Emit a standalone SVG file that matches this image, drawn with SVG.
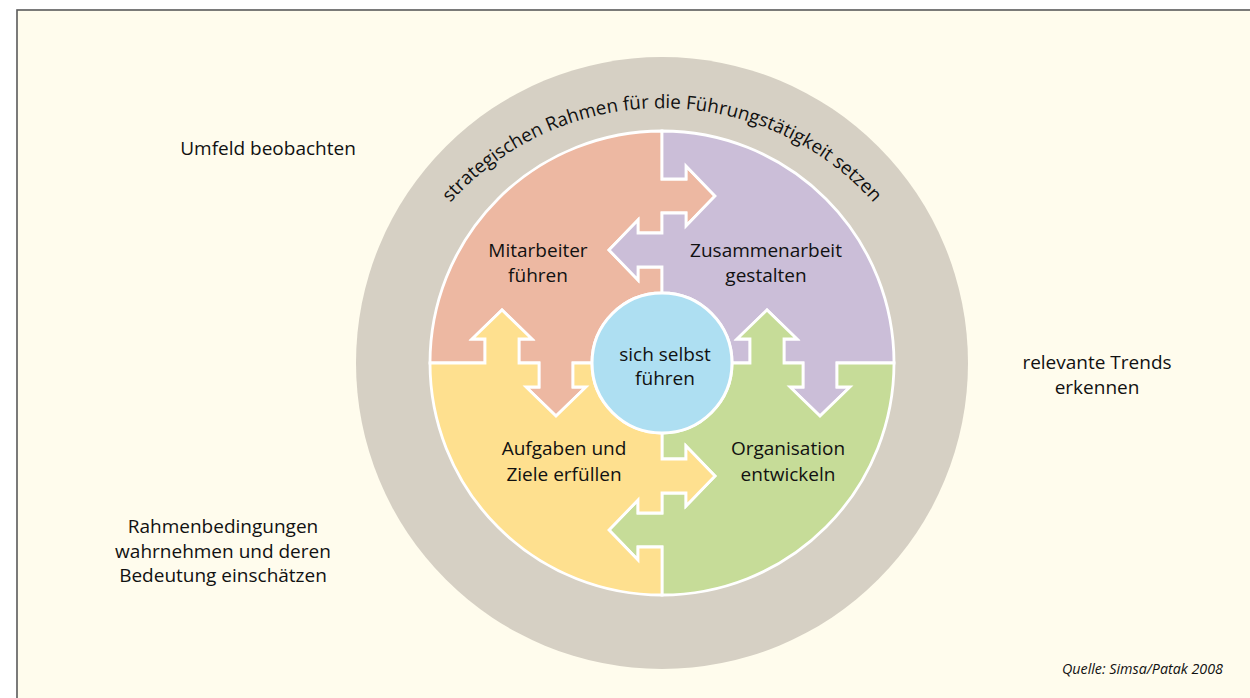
<svg xmlns="http://www.w3.org/2000/svg" width="1250" height="698" viewBox="0 0 1250 698">
<defs>
<style>
.t{font-family:"Open Sans","Noto Sans","Liberation Sans",sans-serif;font-size:19px;fill:#111;text-anchor:middle}
.q{stroke:#fff;stroke-width:2.8;stroke-linejoin:miter}
</style>
<path id="arc" d="M378,392 A284,284 0 0 1 946,392"/>
</defs>
<rect x="0" y="0" width="1250" height="698" fill="#fff"/>
<rect x="17" y="10" width="1250" height="700" fill="#fffced" stroke="#5a5a5a" stroke-width="1.6"/>
<g id="ring">
<circle cx="662" cy="363" r="306" fill="#d6d0c4"/>
<text class="t" style="font-size:18.8px"><textPath href="#arc" startOffset="50%">strategischen Rahmen für die Führungstätigkeit setzen</textPath></text>
</g>
<g id="mitarbeiter">
<path class="q" fill="#edb8a2" d="M430,363 A232,232 0 0 1 662,131 V179 H686 V166 L715,196 L686,226 V213 H662 V233 H638 V220 L609,250 L638,280 V267 H662 V293 A70,70 0 0 0 592,363 H573 V387 H586 L556,416 L526,387 H539 V363 H519 V339 H532 L502,310 L472,339 H485 V363 Z"/>
<text class="t" x="538" y="257">Mitarbeiter</text>
<text class="t" x="538" y="282">führen</text>
</g>
<g id="zusammenarbeit">
<path class="q" fill="#cbbed8" d="M662,131 A232,232 0 0 1 894,363 H837 V387 H850 L820,416 L790,387 H803 V363 H784 V339 H797 L767,310 L737,339 H750 V363 H732 A70,70 0 0 0 662,293 V267 H638 V280 L609,250 L638,220 V233 H662 V213 H686 V226 L715,196 L686,166 V179 H662 Z"/>
<text class="t" x="766" y="257">Zusammenarbeit</text>
<text class="t" x="766" y="282">gestalten</text>
</g>
<g id="organisation">
<path class="q" fill="#c6dc98" d="M894,363 A232,232 0 0 1 662,595 V547 H638 V560 L609,530 L638,500 V513 H662 V493 H686 V506 L715,476 L686,446 V459 H662 V433 A70,70 0 0 0 732,363 H750 V339 H737 L767,310 L797,339 H784 V363 H803 V387 H790 L820,416 L850,387 H837 V363 Z"/>
<text class="t" x="788" y="455">Organisation</text>
<text class="t" x="788" y="481">entwickeln</text>
</g>
<g id="aufgaben">
<path class="q" fill="#fee08f" d="M662,595 A232,232 0 0 1 430,363 H485 V339 H472 L502,310 L532,339 H519 V363 H539 V387 H526 L556,416 L586,387 H573 V363 H592 A70,70 0 0 0 662,433 V459 H686 V446 L715,476 L686,506 V493 H662 V513 H638 V500 L609,530 L638,560 V547 H662 Z"/>
<text class="t" x="564" y="455">Aufgaben und</text>
<text class="t" x="564" y="481">Ziele erfüllen</text>
</g>
<g id="selbst">
<circle cx="662" cy="363" r="70" fill="#aedff2" stroke="#fff" stroke-width="3"/>
<text class="t" x="665" y="361">sich selbst</text>
<text class="t" x="665" y="385">führen</text>
</g>
<g id="umfeld"><text class="t" x="268" y="155">Umfeld beobachten</text></g>
<g id="trends">
<text class="t" x="1097" y="369">relevante Trends</text>
<text class="t" x="1097" y="394">erkennen</text>
</g>
<g id="rahmen">
<text class="t" x="223" y="533">Rahmenbedingungen</text>
<text class="t" x="223" y="557.5">wahrnehmen und deren</text>
<text class="t" x="223" y="582">Bedeutung einschätzen</text>
</g>
<g id="quelle"><text class="t" x="1223" y="674" style="font-size:14.3px;font-style:italic;text-anchor:end">Quelle: Simsa/Patak 2008</text></g>
<g id="connectors"></g>
</svg>
